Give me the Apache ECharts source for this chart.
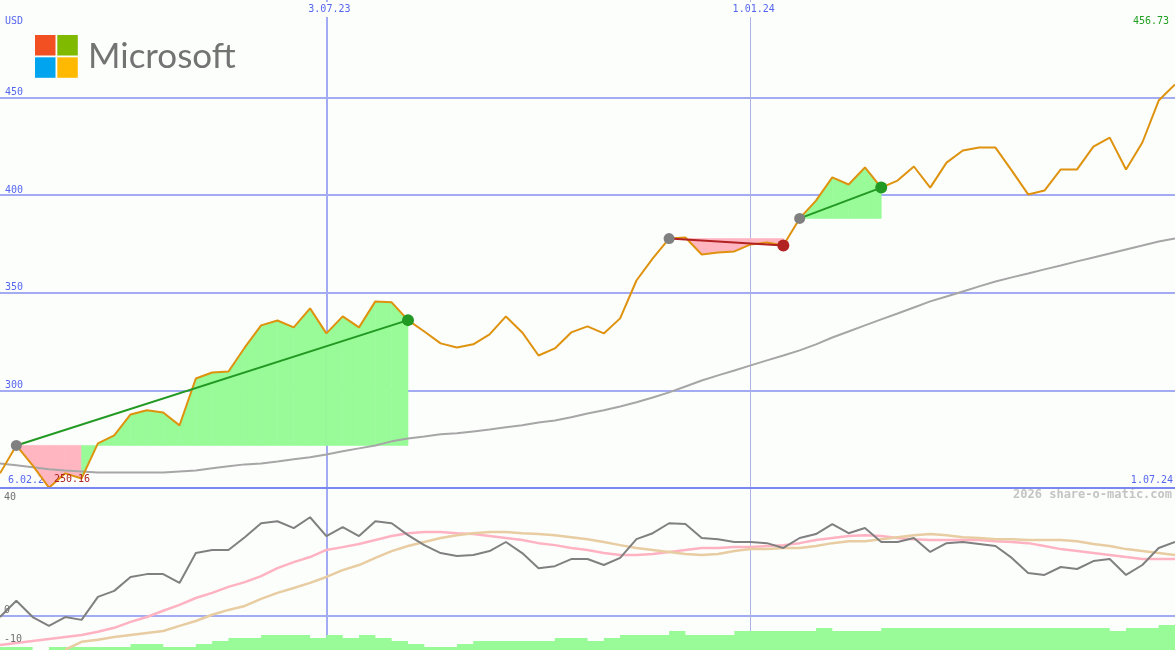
<!DOCTYPE html>
<html>
<head>
<meta charset="utf-8">
<script src="https://cdn.jsdelivr.net/npm/echarts@6/dist/echarts.min.js"></script>
<style>
html,body{margin:0;padding:0;background:#fcfefc;}
#chart{width:1175px;height:650px;}
</style>
</head>
<body>
<div id="chart"></div>
<script>
const dates = [
 '2023-02-13','2023-02-20','2023-02-27','2023-03-06','2023-03-13','2023-03-20','2023-03-27','2023-04-03','2023-04-10','2023-04-17',
 '2023-04-24','2023-05-01','2023-05-08','2023-05-15','2023-05-22','2023-05-29','2023-06-05','2023-06-12','2023-06-19','2023-06-26',
 '2023-07-03','2023-07-10','2023-07-17','2023-07-24','2023-07-31','2023-08-07','2023-08-14','2023-08-21','2023-08-28','2023-09-04',
 '2023-09-11','2023-09-18','2023-09-25','2023-10-02','2023-10-09','2023-10-16','2023-10-23','2023-10-30','2023-11-06','2023-11-13',
 '2023-11-20','2023-11-27','2023-12-04','2023-12-11','2023-12-18','2023-12-25','2024-01-01','2024-01-08','2024-01-15','2024-01-22',
 '2024-01-29','2024-02-05','2024-02-12','2024-02-19','2024-02-26','2024-03-04','2024-03-11','2024-03-18','2024-03-25','2024-04-01',
 '2024-04-08','2024-04-15','2024-04-22','2024-04-29','2024-05-06','2024-05-13','2024-05-20','2024-05-27','2024-06-03','2024-06-10',
 '2024-06-17','2024-06-24','2024-07-01'
];
const price = [
 257.5, 271.8, 261.6, 250.16, 257.5, 254.9, 272.9, 277.0, 287.7, 289.8,
 288.7, 282.1, 306.1, 309.2, 309.7, 322.0, 333.3, 335.8, 332.3, 342.0,
 329.2, 337.9, 332.3, 345.6, 345.1, 336.0, 330.2, 324.1, 322.0, 323.6,
 328.7, 337.9, 329.7, 317.9, 321.5, 329.7, 332.8, 329.2, 336.9, 356.3,
 367.6, 377.8, 378.3, 369.6, 370.7, 371.2, 374.8, 375.8, 374.2, 388.1,
 397.2, 409.1, 405.5, 414.2, 403.9, 407.5, 414.7, 403.9, 416.7, 422.9,
 424.4, 424.4, 412.6, 400.4, 402.4, 413.2, 413.2, 424.9, 429.5, 413.2,
 427.0, 448.5, 456.73
];
const ma = [
 262.6, 261.6, 260.6, 259.6, 259.0, 258.5, 258.0, 258.0, 258.0, 258.0,
 258.0, 258.5, 259.0, 260.1, 261.1, 262.1, 262.6, 263.6, 264.7, 265.7,
 267.2, 268.8, 270.3, 271.8, 273.9, 275.4, 276.4, 277.5, 278.0, 279.0,
 280.0, 281.1, 282.1, 283.6, 284.6, 286.2, 288.2, 289.8, 291.8, 293.9,
 296.4, 299.0, 302.0, 305.1, 307.7, 310.2, 312.8, 315.4, 317.9, 320.5,
 323.6, 327.1, 330.2, 333.3, 336.4, 339.4, 342.5, 345.6, 348.1, 350.7,
 353.3, 355.8, 357.9, 359.9, 362.0, 364.0, 366.1, 368.1, 370.1, 372.2,
 374.2, 376.3, 377.8
];
const momentum = [
 -0.4, 5.3, -0.4, -3.5, -0.4, -1.4, 6.7, 8.8, 13.7, 14.7,
 14.7, 11.6, 22.1, 23.2, 23.2, 27.7, 32.6, 33.3, 30.9, 34.7,
 28.1, 31.2, 28.1, 33.3, 32.6, 28.4, 24.9, 22.1, 21.1, 21.4,
 22.8, 26.0, 22.1, 16.8, 17.5, 20.0, 20.0, 17.9, 20.4, 27.0,
 29.1, 32.6, 32.3, 27.4, 27.0, 26.0, 26.0, 25.6, 23.9, 27.4,
 28.8, 32.3, 29.1, 30.9, 26.0, 26.0, 27.4, 22.5, 25.6, 26.0,
 25.3, 24.6, 20.4, 15.1, 14.4, 17.2, 16.5, 19.3, 20.0, 14.4,
 17.9, 23.9, 26.0
];
const pinkLine = [
 -10.2, -9.5, -8.8, -8.1, -7.4, -6.7, -5.6, -4.2, -2.1, -0.4,
 1.8, 3.9, 6.3, 8.1, 10.2, 11.9, 14.0, 16.8, 18.9, 20.7,
 23.2, 24.2, 25.3, 26.7, 28.1, 29.1, 29.5, 29.5, 29.1, 28.8,
 28.1, 27.4, 26.7, 25.6, 24.9, 23.9, 23.2, 22.1, 21.4, 21.4,
 21.8, 22.5, 23.2, 23.9, 23.9, 24.2, 24.2, 24.6, 24.9, 25.6,
 26.7, 27.4, 28.1, 28.4, 28.1, 27.4, 27.0, 26.7, 26.7, 26.7,
 26.7, 26.3, 26.0, 25.6, 24.6, 23.5, 22.8, 22.1, 21.4, 20.7,
 20.0, 20.0, 20.0
];
const tanLine = [
 null, null, null, null, -11.9, -9.1, -8.4, -7.4, -6.7, -6.0,
 -5.3, -3.5, -1.8, 0.4, 2.1, 3.5, 6.0, 8.1, 9.8, 11.6,
 13.7, 16.1, 17.9, 20.4, 22.8, 24.6, 26.0, 27.4, 28.4, 29.1,
 29.5, 29.5, 29.1, 28.8, 28.4, 27.7, 27.0, 26.0, 24.9, 23.9,
 23.2, 22.5, 21.8, 21.4, 21.8, 22.8, 23.5, 23.5, 23.9, 23.9,
 24.6, 25.6, 26.3, 26.3, 27.0, 27.7, 28.4, 28.8, 28.4, 27.7,
 27.4, 27.0, 27.0, 26.7, 26.7, 26.7, 26.3, 25.3, 24.6, 23.5,
 22.8, 22.1, 21.4
];
const barVals = [
 3, 3, 0, 3, 3, 3, 3, 3, 6, 6,
 3, 3, 6, 9, 12, 12, 15, 15, 15, 12,
 15, 12, 15, 12, 9, 6, 3, 3, 6, 9,
 9, 9, 9, 9, 12, 12, 9, 12, 15, 15,
 15, 19, 15, 15, 15, 19, 19, 19, 19, 19,
 22, 19, 19, 19, 22, 22, 22, 22, 22, 22,
 22, 22, 22, 22, 22, 22, 22, 22, 19, 22,
 22, 25, 25
];
const sigStart = [1, 41, 49];
const sigEnd = [25, 48, 54];
const topGridVals = [300, 350, 400, 450];
const lowLabelVals = [-10, 0, 40];
const dateLines = ['2023-07-03', '2024-01-01'];
const firstDateLabel = '6.02.23';
const currency = 'USD';
const credit = '2026 share-o-matic.com';

const MONO = 'DejaVu Sans Mono';
const BLUE = '#5566ee';
const GRID_BLUE = '#a3acf2';
const GREEN_FILL = '#98fb98';
const PINK_FILL = '#ffb6c1';
const UP = '#229922';
const DOWN = '#b22222';
const BG = '#fcfefc';

function fmtDate(v) {
  const p = v.split('-');
  return (+p[2]) + '.' + p[1] + '.' + p[0].slice(2);
}

const fillData = [];
sigStart.forEach((s, k) => {
  const e = sigEnd[k];
  for (let i = s; i < e; i++) fillData.push([i, price[i], price[i + 1], price[s]]);
});

const trendSeries = sigStart.map((s, k) => {
  const e = sigEnd[k];
  return {
    type: 'line', xAxisIndex: 0, yAxisIndex: 0, z: 5,
    data: price.map((v, i) => (i === s || i === e) ? v : null),
    connectNulls: true, symbol: 'none', silent: true,
    lineStyle: { color: price[e] >= price[s] ? UP : DOWN, width: 2 }
  };
});

const vLineData = [
  { xAxis: dateLines[0], lineStyle: { color: GRID_BLUE, width: 2, type: 'solid' } },
  { xAxis: dateLines[1], lineStyle: { color: '#aab2e6', width: 1, type: 'solid' } }
];

const chart = echarts.init(document.getElementById('chart'), null, { renderer: 'canvas' });
chart.setOption({
  animation: false,
  backgroundColor: BG,
  textStyle: { fontFamily: MONO },
  grid: [
    { left: 0, right: 0, top: 0, height: 488, outerBoundsMode: 'none', containLabel: false },
    { left: 0, right: 0, top: 488, bottom: 0, outerBoundsMode: 'none', containLabel: false }
  ],
  xAxis: [
    { gridIndex: 0, type: 'category', data: dates, boundaryGap: false, position: 'bottom', z: 10,
      axisLine: { show: true, lineStyle: { color: '#7888f0', width: 2 } }, axisTick: { show: false },
      splitLine: { show: false },
      axisLabel: { inside: true, margin: 3, interval: (idx) => idx === dates.length - 1, formatter: fmtDate,
        color: BLUE, fontSize: 10, fontFamily: MONO, align: 'right', padding: [0, 2, 0, 0] } },
    { gridIndex: 0, type: 'category', data: dates, boundaryGap: false, position: 'top', z: 10,
      axisLine: { show: false }, axisTick: { show: false }, splitLine: { show: false },
      axisLabel: { inside: true, margin: 2, interval: (idx, val) => dateLines.indexOf(val) >= 0, formatter: fmtDate,
        color: BLUE, fontSize: 10, fontFamily: MONO, backgroundColor: BG, padding: [2, 1, 3, 7] } },
    { gridIndex: 1, type: 'category', data: dates, boundaryGap: false,
      axisLine: { show: false }, axisTick: { show: false }, axisLabel: { show: false }, splitLine: { show: false } }
  ],
  yAxis: [
    { gridIndex: 0, type: 'value', min: 250, max: 500, interval: 50, z: 10,
      axisLine: { show: false }, axisTick: { show: false }, splitLine: { show: false },
      axisLabel: { inside: true, margin: 5, verticalAlign: 'bottom', color: BLUE, fontSize: 10, fontFamily: MONO,
        formatter: (v) => topGridVals.indexOf(v) >= 0 ? String(v) : '' } },
    { gridIndex: 1, type: 'value', min: -12, max: 45, interval: 1, z: 10,
      axisLine: { show: false }, axisTick: { show: false }, splitLine: { show: false },
      axisLabel: { inside: true, margin: 4, verticalAlign: 'bottom', color: '#707070', fontSize: 10, fontFamily: MONO,
        formatter: (v) => lowLabelVals.indexOf(Math.round(v)) >= 0 && Math.abs(v - Math.round(v)) < 1e-6 ? String(Math.round(v)) : '' } },
    { gridIndex: 1, type: 'value', min: 0, max: 162, show: false }
  ],
  graphic: [
    { type: 'rect', z: 0, shape: { x: 35, y: 35, width: 20.5, height: 20.5 }, style: { fill: '#f25022' } },
    { type: 'rect', z: 0, shape: { x: 57.3, y: 35, width: 20.5, height: 20.5 }, style: { fill: '#7fba00' } },
    { type: 'rect', z: 0, shape: { x: 35, y: 57.3, width: 20.5, height: 20.5 }, style: { fill: '#00a4ef' } },
    { type: 'rect', z: 0, shape: { x: 57.3, y: 57.3, width: 20.5, height: 20.5 }, style: { fill: '#ffb900' } },
    { type: 'text', z: 0, x: 88, y: 57, style: { text: 'Microsoft', fill: '#737373', font: '35px Lato', verticalAlign: 'middle', align: 'left' } },
    { type: 'text', z: 0, x: 5, y: 21, style: { text: currency, fill: BLUE, font: '10px "DejaVu Sans Mono"', verticalAlign: 'middle' } },
    { type: 'text', z: 0, x: 1169, y: 21, style: { text: price[price.length - 1].toFixed(2), fill: '#22a022', font: '10px "DejaVu Sans Mono"', verticalAlign: 'middle', align: 'right' } },
    { type: 'text', z: 0, x: 8, y: 480, style: { text: firstDateLabel, fill: BLUE, font: '10px "DejaVu Sans Mono"', verticalAlign: 'middle', align: 'left' } },
    { type: 'text', z: 0, x: 1172, y: 495, style: { text: credit, fill: '#c4c4c4', font: 'bold 12px "DejaVu Sans Mono"', verticalAlign: 'middle', align: 'right' } }
  ],
  series: [
    { type: 'line', name: 'gridTop', xAxisIndex: 0, yAxisIndex: 0, z: 1, data: price.map(() => null), symbol: 'none', silent: true,
      markLine: { z: 1, silent: true, symbol: 'none', animation: false, label: { show: false },
        data: topGridVals.map(v => ({ yAxis: v, lineStyle: { color: GRID_BLUE, width: 2, type: 'solid' } })).concat(vLineData) } },
    { type: 'custom', name: 'fill', xAxisIndex: 0, yAxisIndex: 0, z: 2, silent: true, data: fillData,
      encode: { x: 0, y: [1, 2, 3] },
      renderItem: function (params, api) {
        const i = api.value(0);
        const b0 = api.coord([i, api.value(3)]);
        const p0 = api.coord([i, api.value(1)]);
        const p1 = api.coord([i + 1, api.value(2)]);
        const b1 = api.coord([i + 1, api.value(3)]);
        const c = api.value(2) >= api.value(3) ? GREEN_FILL : PINK_FILL;
        return { type: 'polygon', shape: { points: [b0, p0, p1, b1] }, style: { fill: c, stroke: c, lineWidth: 0.6 } };
      } },
    { type: 'line', name: 'ma', xAxisIndex: 0, yAxisIndex: 0, z: 3, data: ma, symbol: 'none', silent: true,
      lineStyle: { color: '#a6a6a6', width: 2 } },
    { type: 'line', name: 'price', xAxisIndex: 0, yAxisIndex: 0, z: 4, data: price, symbol: 'none', silent: true,
      lineStyle: { color: '#de920e', width: 2 },
      markPoint: { symbol: 'circle', symbolSize: 0, silent: true, animation: false,
        data: [{ type: 'min' }],
        label: { show: true, position: 'right', distance: 5, offset: [0, -8], color: DOWN, fontSize: 10, fontFamily: MONO,
          formatter: (p) => Number(p.value).toFixed(2) } } },
    ...trendSeries,
    { type: 'scatter', name: 'starts', xAxisIndex: 0, yAxisIndex: 0, z: 6, silent: true, symbolSize: 11,
      data: sigStart.map(s => [s, price[s]]), itemStyle: { color: '#808080', opacity: 1 } },
    { type: 'scatter', name: 'ends', xAxisIndex: 0, yAxisIndex: 0, z: 6, silent: true, symbolSize: 12,
      data: sigEnd.map((e, k) => ({ value: [e, price[e]], itemStyle: { color: price[e] >= price[sigStart[k]] ? UP : DOWN } })),
      itemStyle: { opacity: 1 } },
    { type: 'line', name: 'gridLow', xAxisIndex: 2, yAxisIndex: 1, z: 1, data: price.map(() => null), symbol: 'none', silent: true,
      markLine: { z: 1, silent: true, symbol: 'none', animation: false, label: { show: false },
        data: [{ yAxis: 0, lineStyle: { color: GRID_BLUE, width: 2, type: 'solid' } }].concat(vLineData) } },
    { type: 'line', name: 'bars', xAxisIndex: 2, yAxisIndex: 2, z: 2, data: barVals, step: 'end', symbol: 'none', silent: true,
      lineStyle: { width: 0, color: GREEN_FILL }, areaStyle: { color: GREEN_FILL, opacity: 1 } },
    { type: 'line', name: 'pink', xAxisIndex: 2, yAxisIndex: 1, z: 3, data: pinkLine, symbol: 'none', silent: true,
      lineStyle: { color: '#ffb3c2', width: 2.5 } },
    { type: 'line', name: 'tan', xAxisIndex: 2, yAxisIndex: 1, z: 3, data: tanLine, symbol: 'none', silent: true,
      lineStyle: { color: '#e8cca2', width: 2.5 } },
    { type: 'line', name: 'momentum', xAxisIndex: 2, yAxisIndex: 1, z: 4, data: momentum, symbol: 'none', silent: true,
      lineStyle: { color: '#808080', width: 2 } }
  ]
});
</script>
</body>
</html>
